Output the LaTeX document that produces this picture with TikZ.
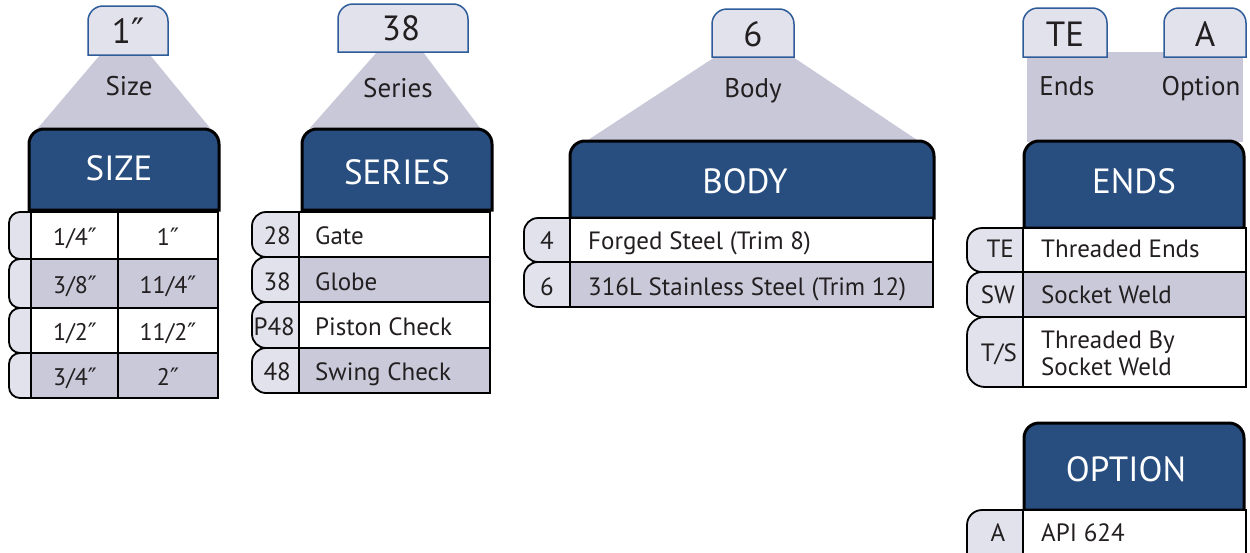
\documentclass[tikz,border=0pt]{standalone}
\usepackage{fontspec}
\setmainfont{PT Sans}
\newfontfamily\primefont{DejaVu Sans}
\newcommand\dpr{{\primefont ″}}
\definecolor{tabfill}{HTML}{E1E2EC}
\definecolor{tabblue}{HTML}{2E5C99}
\definecolor{trapgray}{HTML}{C8C8D9}
\definecolor{headblue}{HTML}{284E80}
\definecolor{rowgray}{HTML}{C9C9DA}
\definecolor{ink}{HTML}{231F20}
\newcommand\RTop[6]{\path[#1] (#2,#5) -- (#2,{#4-#6}) arc[start angle=180,end angle=90,radius=#6] -- ({#3-#6},#4) arc[start angle=90,end angle=0,radius=#6] -- (#3,#5) -- cycle;}
\newcommand\LTab[6]{\path[#1] (#3,#4) -- ({#2+#6},#4) arc[start angle=90,end angle=180,radius=#6] -- (#2,{#5+#6}) arc[start angle=180,end angle=270,radius=#6] -- (#3,#5) -- cycle;}
\tikzset{
  toptab/.style={fill=tabfill,draw=tabblue,line width=1.5},
  trapfill/.style={fill=trapgray},
  headbox/.style={fill=headblue,draw=black,line width=3},
  sidetab/.style={fill=tabfill,draw=black,line width=1.8},
  whiterow/.style={fill=white,draw=black,line width=2},
  grayrow/.style={fill=rowgray,draw=black,line width=2},
  tabtxt/.style={anchor=base,inner sep=0,text=ink,font=\fontsize{35}{40}\selectfont},
  lbltxt/.style={anchor=base,inner sep=0,text=ink,font=\fontsize{27}{30}\selectfont},
  headtxt/.style={anchor=base,inner sep=0,text=white,font=\fontsize{35}{42}\selectfont},
  celltxt/.style={anchor=base,inner sep=0,text=ink,font=\fontsize{24}{28}\selectfont},
  rowtxt/.style={anchor=base west,inner sep=0,text=ink,font=\fontsize{25}{27}\selectfont,align=left},
  codetxt/.style={anchor=base,inner sep=0,text=ink,font=\fontsize{25}{27}\selectfont},
  codetxtr/.style={anchor=base east,inner sep=0,text=ink,font=\fontsize{25}{27}\selectfont},
}
\begin{document}
\begin{tikzpicture}[x=1pt,y=1pt]
\clip (0,0) rectangle (1250,-552);
\fill[white] (0,0) rectangle (1250,-552);

% ---------- SIZE ----------
\fill[trapfill] (100,-55) -- (150,-55) -- (210,-128) -- (38,-128) -- cycle;
\RTop{toptab}{88}{168}{-6}{-55}{15}
\node[tabtxt] (sizeTab) at (128,-43) {1\dpr};
\node[lbltxt] (sizeLbl) at (129,-95) {Size};
\RTop{headbox}{29}{219}{-129}{-210}{15}
\node[headtxt] (sizeHead) at (119,-180) {SIZE};
\LTab{sidetab}{9}{31}{-212}{-259}{11}
\LTab{sidetab}{9}{31}{-259}{-308}{11}
\LTab{sidetab}{9}{31}{-308}{-353}{11}
\LTab{sidetab}{9}{31}{-353}{-398}{11}
\path[whiterow] (31,-212) rectangle (118,-259);
\path[whiterow] (118,-212) rectangle (218,-259);
\path[grayrow] (31,-259) rectangle (118,-308);
\path[grayrow] (118,-259) rectangle (218,-308);
\path[whiterow] (31,-308) rectangle (118,-353);
\path[whiterow] (118,-308) rectangle (218,-353);
\path[grayrow] (31,-353) rectangle (118,-398);
\path[grayrow] (118,-353) rectangle (218,-398);
\node[celltxt] (s11) at (75,-245) {1/4\dpr};
\node[celltxt] (s12) at (168,-245) {1\dpr};
\node[celltxt] (s21) at (75,-293) {3/8\dpr};
\node[celltxt] (s22) at (168,-293) {11/4\dpr};
\node[celltxt] (s31) at (75,-340) {1/2\dpr};
\node[celltxt] (s32) at (168,-340) {11/2\dpr};
\node[celltxt] (s41) at (75,-385) {3/4\dpr};
\node[celltxt] (s42) at (168,-385) {2\dpr};

% ---------- SERIES ----------
\fill[trapfill] (377,-52) -- (423,-52) -- (480,-128) -- (310,-128) -- cycle;
\RTop{toptab}{338}{468}{-4}{-52}{15}
\node[tabtxt] (seriesTab) at (401,-40) {38};
\node[lbltxt] (seriesLbl) at (398,-97) {Series};
\RTop{headbox}{302}{492}{-129}{-210}{15}
\node[headtxt] (seriesHead) at (397,-184) {SERIES};
\LTab{sidetab}{252}{299}{-212}{-257}{14}
\LTab{sidetab}{252}{299}{-257}{-302}{14}
\LTab{sidetab}{252}{299}{-302}{-348}{14}
\LTab{sidetab}{252}{299}{-348}{-393}{14}
\path[whiterow] (299,-212) rectangle (490,-257);
\path[grayrow] (299,-257) rectangle (490,-302);
\path[whiterow] (299,-302) rectangle (490,-348);
\path[grayrow] (299,-348) rectangle (490,-393);
\node[codetxtr] (c28) at (291,-244) {28};
\node[codetxtr] (c38) at (291,-290) {38};
\node[codetxtr] (cP48) at (295,-335) {P48};
\node[codetxtr] (c48) at (291,-380) {48};
\node[rowtxt] (tGate) at (315,-244) {Gate};
\node[rowtxt] (tGlobe) at (315,-290) {Globe};
\node[rowtxt] (tPiston) at (315,-335) {Piston Check};
\node[rowtxt] (tSwing) at (315,-380) {Swing Check};

% ---------- BODY ----------
\fill[trapfill] (715,-57) -- (793,-57) -- (917,-140) -- (588,-140) -- cycle;
\RTop{toptab}{712}{794}{-9}{-57}{15}
\node[tabtxt] (bodyTab) at (753,-46) {6};
\node[lbltxt] (bodyLbl) at (753,-97) {Body};
\RTop{headbox}{570}{934}{-141}{-218}{15}
\node[headtxt] (bodyHead) at (745,-193) {BODY};
\LTab{sidetab}{524}{570}{-218}{-262}{14}
\LTab{sidetab}{524}{570}{-262}{-307}{14}
\path[whiterow] (570,-218) rectangle (933,-262);
\path[grayrow] (570,-262) rectangle (933,-307);
\node[codetxt] (c4) at (547,-249) {4};
\node[codetxt] (c6) at (547,-295) {6};
\node[rowtxt] (tForged) at (588,-249) {Forged Steel (Trim 8)};
\node[rowtxt] (t316) at (588,-295) {316L Stainless Steel (Trim 12)};

% ---------- ENDS / OPTION ----------
\fill[trapfill] (1027,-52) rectangle (1243,-142);
\RTop{toptab}{1023}{1107}{-8}{-57}{15}
\RTop{toptab}{1164}{1246}{-8}{-57}{15}
\node[tabtxt] (endsTab) at (1065,-46) {TE};
\node[tabtxt] (optTab) at (1205,-46) {A};
\node[lbltxt] (endsLbl) at (1067,-95) {Ends};
\node[lbltxt] (optLbl) at (1201,-95) {Option};
\RTop{headbox}{1024}{1244}{-141}{-228}{15}
\node[headtxt] (endsHead) at (1134,-193) {ENDS};
\LTab{sidetab}{967}{1023}{-228}{-272}{15}
\LTab{sidetab}{967}{1023}{-272}{-317}{15}
\LTab{sidetab}{967}{1023}{-317}{-387}{18}
\path[whiterow] (1023,-228) rectangle (1246,-272);
\path[grayrow] (1023,-272) rectangle (1246,-317);
\path[whiterow] (1023,-317) rectangle (1246,-387);
\node[codetxtr] (cTE) at (1014,-257) {TE};
\node[codetxtr] (cSW) at (1015,-303) {SW};
\node[codetxtr] (cTS) at (1017,-361) {T/S};
\node[rowtxt] (tTE) at (1041,-257) {Threaded Ends};
\node[rowtxt] (tSW) at (1041,-303) {Socket Weld};
\node[rowtxt] (tTS1) at (1041,-348) {Threaded By};
\node[rowtxt] (tTS2) at (1041,-375) {Socket Weld};

\RTop{headbox}{1024}{1244}{-423}{-510}{15}
\node[headtxt] (optHead) at (1126,-481) {OPTION};
\LTab{sidetab}{967}{1023}{-510}{-570}{15}
\path[whiterow] (1023,-510) rectangle (1246,-570);
\node[codetxt] (cA) at (998,-541) {A};
\node[rowtxt] (tAPI) at (1041,-541) {API 624};
\end{tikzpicture}
\end{document}
